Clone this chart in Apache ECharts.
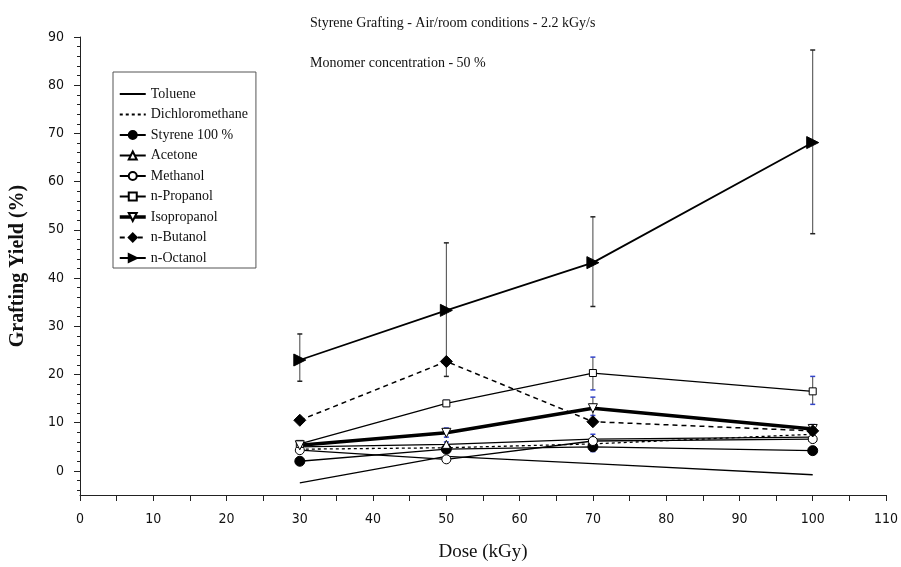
<!DOCTYPE html>
<html>
<head>
<meta charset="utf-8">
<script src="https://cdn.jsdelivr.net/npm/echarts@6/dist/echarts.min.js"></script>
<style>
  html, body { margin: 0; padding: 0; background: #fff; }
  #chart { width: 901px; height: 567px; }
</style>
</head>
<body>
<div id="chart"></div>
<script>
// dose points (kGy)
const doses = [30, 50, 70, 100];

// grafting yield (%) per solvent
const toluene = [-2.5, 3.0, 1.5, -0.8];
const dichloromethane = [4.5, 4.8, 5.6, 7.6];
const styrene100 = [2.0, 4.5, 5.0, 4.2];
const acetone = [5.0, 5.5, 6.6, 7.0];
const methanol = [4.3, 2.4, 6.2, 6.6];
const nPropanol = [5.6, 14.0, 20.3, 16.5];
const isopropanol = [5.3, 7.9, 13.0, 8.7];
const nButanol = [10.5, 22.7, 10.2, 8.3];
const nOctanol = [23.0, 33.3, 43.2, 68.1];

// error bars (low / high)
const octanolErrLow = [18.6, 19.6, 34.1, 49.2];
const octanolErrHigh = [28.4, 47.3, 52.7, 87.3];
const propanolErrLow = [5.0, 13.5, 16.8, 13.8];
const propanolErrHigh = [6.0, 14.6, 23.6, 19.6];
const isopropanolErrLow = [4.8, 7.0, 11.5, 8.0];
const isopropanolErrHigh = [6.2, 8.9, 15.3, 9.6];
const acetoneErrLow = [4.6, 5.0, 4.0, 6.4];
const acetoneErrHigh = [5.4, 6.0, 7.6, 7.6];

// axis ticks
const yLabelTicks = [0, 10, 20, 30, 40, 50, 60, 70, 80, 90];
const yMinorTicks = [-4, -2, 2, 4, 6, 8, 12, 14, 16, 18, 22, 24, 26, 28, 32, 34, 36, 38, 42, 44, 46, 48,
  52, 54, 56, 58, 62, 64, 66, 68, 72, 74, 76, 78, 82, 84, 86, 88];

const legendNames = ['Toluene', 'Dichloromethane', 'Styrene 100 %', 'Acetone', 'Methanol', 'n-Propanol', 'Isopropanol', 'n-Butanol', 'n-Octanol'];
const noMarker = ['Toluene', 'Dichloromethane'];

const serif = "'Liberation Serif', 'DejaVu Serif', serif";
const narrow = "'Liberation Sans Narrow', 'DejaVu Sans Condensed', sans-serif";

function pts(vals) {
  return doses.map((d, i) => [d, vals[i]]);
}

function lineSeries(name, vals, opt) {
  return Object.assign({
    name: name,
    type: 'line',
    data: pts(vals),
    symbol: 'none',
    symbolSize: 8,
    lineStyle: { color: '#000', width: 1.3, type: 'solid' },
    itemStyle: { color: '#000', borderColor: '#000', borderWidth: 1 },
    z: 3,
    animation: false
  }, opt);
}

function errorBars(low, high, capColor) {
  return {
    type: 'custom',
    silent: true,
    animation: false,
    z: 2,
    data: doses.map((d, i) => [d, low[i], high[i]]),
    renderItem: function (params, api) {
      const x = api.value(0);
      const lo = api.coord([x, api.value(1)]);
      const hi = api.coord([x, api.value(2)]);
      const w = 2.5;
      return {
        type: 'group',
        children: [
          { type: 'line', shape: { x1: lo[0], y1: lo[1], x2: hi[0], y2: hi[1] }, style: { stroke: '#444', lineWidth: 1 } },
          { type: 'line', shape: { x1: hi[0] - w, y1: hi[1], x2: hi[0] + w, y2: hi[1] }, style: { stroke: capColor, lineWidth: 1.5 } },
          { type: 'line', shape: { x1: lo[0] - w, y1: lo[1], x2: lo[0] + w, y2: lo[1] }, style: { stroke: capColor, lineWidth: 1.5 } }
        ]
      };
    }
  };
}

const openMarker = { color: '#fff', borderColor: '#000', borderWidth: 1 };
const hiddenMarker = { color: '#000', opacity: 0 };

function legendItem(n) {
  if (noMarker.indexOf(n) >= 0) return { name: n, itemStyle: { opacity: 0 } };
  if (n === 'Isopropanol') return { name: n, lineStyle: { width: 3.5 } };
  return n;
}

let myChart = echarts.init(document.getElementById('chart'));
myChart.setOption({
  backgroundColor: '#fff',
  animation: false,
  title: [
    { text: 'Styrene Grafting - Air/room conditions - 2.2 kGy/s', left: 305, top: 11,
      textStyle: { fontFamily: serif, fontSize: 14, fontWeight: 'normal', color: '#111' } },
    { text: 'Monomer concentration - 50 %', left: 305, top: 51,
      textStyle: { fontFamily: serif, fontSize: 14, fontWeight: 'normal', color: '#111' } }
  ],
  legend: {
    data: legendNames.map(legendItem),
    orient: 'vertical',
    left: 113,
    top: 72,
    padding: [15, 8, 3, 5],
    itemWidth: 26,
    itemHeight: 10,
    itemGap: 6.5,
    borderColor: '#555',
    borderWidth: 1,
    backgroundColor: '#fff',
    textStyle: { fontFamily: serif, fontSize: 14, color: '#111', lineHeight: 14 }
  },
  grid: { left: 80, right: 12, top: 37, bottom: 71 },
  xAxis: {
    type: 'value',
    min: 0, max: 110, interval: 10,
    name: 'Dose (kGy)',
    nameLocation: 'middle',
    nameGap: 48,
    nameTextStyle: { fontFamily: serif, fontSize: 19, color: '#111' },
    axisLine: { onZero: false, lineStyle: { color: '#222', width: 1 } },
    axisTick: { length: 6, lineStyle: { color: '#222' } },
    minorTick: { show: true, splitNumber: 2, length: 6, lineStyle: { color: '#222' } },
    axisLabel: { margin: 17, fontFamily: narrow, fontSize: 14, color: '#111' },
    splitLine: { show: false }
  },
  yAxis: [
    {
      type: 'value',
      min: -5, max: 90,
      name: 'Grafting Yield (%)',
      nameLocation: 'middle',
      nameGap: 52,
      nameTextStyle: { fontFamily: serif, fontSize: 20, color: '#111', fontWeight: 'bold' },
      axisLine: { show: true, lineStyle: { color: '#222', width: 1 } },
      axisTick: { show: true, length: 6, customValues: yLabelTicks, lineStyle: { color: '#222' } },
      axisLabel: { margin: 16, fontFamily: narrow, fontSize: 14, color: '#111', customValues: yLabelTicks },
      splitLine: { show: false }
    },
    {
      type: 'value',
      min: -5, max: 90,
      position: 'left',
      axisLine: { show: false },
      axisTick: { show: true, length: 3, customValues: yMinorTicks, lineStyle: { color: '#222' } },
      axisLabel: { show: false },
      splitLine: { show: false }
    }
  ],
  series: [
    errorBars(octanolErrLow, octanolErrHigh, '#222'),
    errorBars(propanolErrLow, propanolErrHigh, '#3344cc'),
    errorBars(isopropanolErrLow, isopropanolErrHigh, '#3344cc'),
    errorBars(acetoneErrLow, acetoneErrHigh, '#3344cc'),
    lineSeries('Toluene', toluene, { itemStyle: hiddenMarker }),
    lineSeries('Dichloromethane', dichloromethane, { itemStyle: hiddenMarker,
      lineStyle: { color: '#000', width: 1.3, type: [3, 3] } }),
    lineSeries('Styrene 100 %', styrene100, { symbol: 'circle', symbolSize: 10 }),
    lineSeries('Acetone', acetone, { symbol: 'triangle', symbolSize: 8, itemStyle: openMarker }),
    lineSeries('Methanol', methanol, { symbol: 'circle', symbolSize: 9, itemStyle: openMarker }),
    lineSeries('n-Propanol', nPropanol, { symbol: 'rect', symbolSize: 7, itemStyle: openMarker }),
    lineSeries('Isopropanol', isopropanol, { symbol: 'triangle', symbolRotate: 180, symbolSize: 9, itemStyle: openMarker,
      lineStyle: { color: '#000', width: 3.5, type: 'solid' } }),
    lineSeries('n-Butanol', nButanol, { symbol: 'diamond', symbolSize: 12, lineStyle: { color: '#000', width: 1.5, type: [5, 4] } }),
    lineSeries('n-Octanol', nOctanol, { symbol: 'triangle', symbolRotate: -90, symbolSize: 12, lineStyle: { color: '#000', width: 1.8, type: 'solid' } })
  ]
});
</script>
</body>
</html>
